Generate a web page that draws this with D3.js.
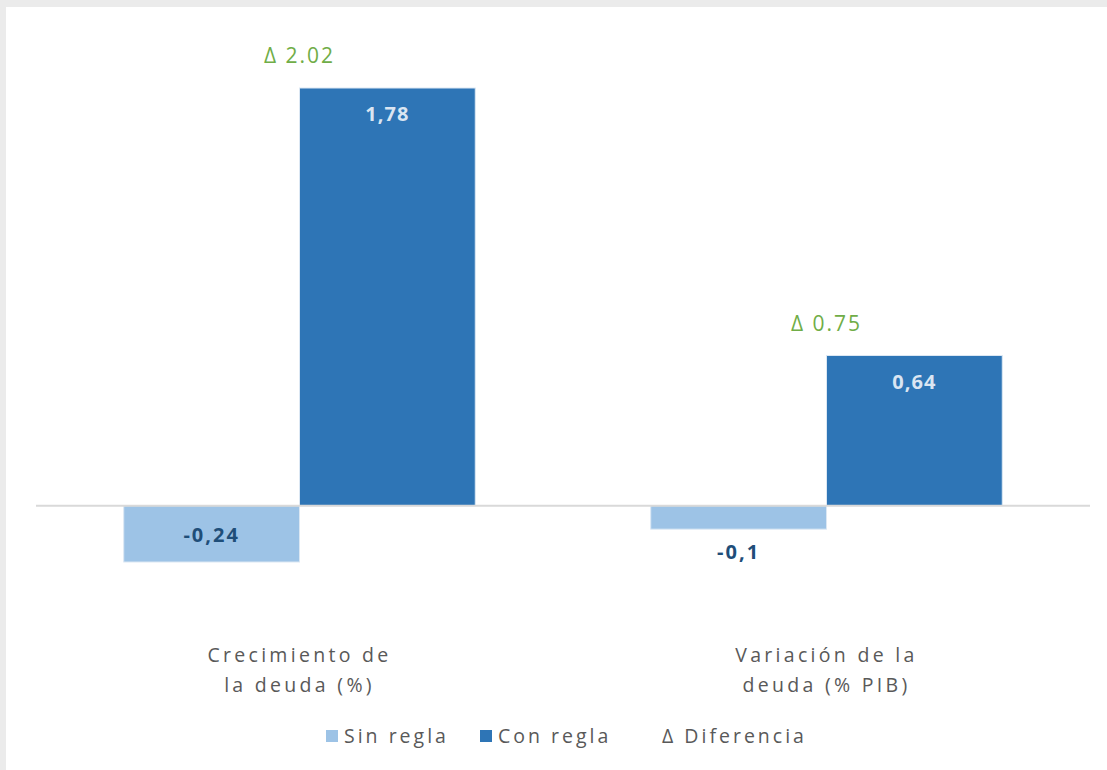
<!DOCTYPE html>
<meta charset="UTF-8">
<html>
<head>
<style>
  body { margin: 0; background: #ebebeb; }
  svg { display: block; }
</style>
</head>
<body>
<svg width="1107" height="770" font-family="'Open Sans', sans-serif"></svg>
<script src="https://d3js.org/d3.v7.min.js"></script>
<script>

// Data.
var categories = [["Crecimiento de", "la deuda (%)"], ["Variación de la", "deuda (% PIB)"]];
var series = ["Sin regla", "Con regla"];
var sinRegla = [-0.24, -0.1];
var conRegla = [1.78, 0.64];
var diferencia = [2.02, 0.75];
var valueLabels = [["-0,24", "-0,1"], ["1,78", "0,64"]];
var deltaLabels = ["Δ 2.02", "Δ 0.75"];

var colors = ["#9dc3e6", "#2e75b6"];

var svg = d3.select("svg"),
    width = +svg.attr("width"),
    height = +svg.attr("height");

// white panel
svg.append("rect")
    .attr("x", 6).attr("y", 7)
    .attr("width", width - 6).attr("height", height - 7)
    .attr("fill", "#fff");

var x0 = d3.scaleBand()
    .domain(d3.range(categories.length))
    .range([36, 1090])
    .paddingInner(0.333)
    .paddingOuter(0.1665);

var x1 = d3.scaleBand()
    .domain(d3.range(series.length))
    .range([0, x0.bandwidth()]);

var y = d3.scaleLinear()
    .domain([-0.24, 1.78])
    .range([562, 88]);

var groups = [sinRegla, conRegla];

// bars
groups.forEach(function(vals, s) {
    svg.selectAll(".bar" + s)
        .data(vals)
        .enter().append("rect")
        .attr("x", function(d, i) { return x0(i) + x1(s); })
        .attr("y", function(d) { return y(Math.max(0, d)); })
        .attr("width", x1.bandwidth())
        .attr("height", function(d) { return Math.abs(y(d) - y(0)); })
        .attr("fill", colors[s])
        .attr("stroke", "#dbe7f3")
        .attr("stroke-width", 1);
});

// zero line
svg.append("line")
    .attr("x1", 36).attr("x2", 1090)
    .attr("y1", y(0)).attr("y2", y(0))
    .attr("stroke", "#d9d9d9")
    .attr("stroke-width", 2);

// value labels
conRegla.forEach(function(d, i) {
    svg.append("text")
        .attr("x", x0(i) + x1(1) + x1.bandwidth() / 2)
        .attr("y", y(d) + 33)
        .attr("text-anchor", "middle")
        .attr("font-size", 20)
        .attr("font-weight", "bold")
        .attr("letter-spacing", 1)
        .attr("fill", "#dae5f2")
        .text(valueLabels[1][i]);
});

sinRegla.forEach(function(d, i) {
    var inside = Math.abs(y(d) - y(0)) > 40;
    svg.append("text")
        .attr("x", x0(i) + x1(0) + x1.bandwidth() / 2)
        .attr("y", inside ? y(d) - 20 : y(d) + 30)
        .attr("text-anchor", "middle")
        .attr("font-size", 20)
        .attr("font-weight", "bold")
        .attr("letter-spacing", 2)
        .attr("fill", "#1f4e79")
        .text(valueLabels[0][i]);
});

// delta labels
diferencia.forEach(function(d, i) {
    svg.append("text")
        .attr("x", x0(i) + x0.bandwidth() / 2)
        .attr("y", y(conRegla[i]) - 25)
        .attr("text-anchor", "middle")
        .attr("font-size", 21)
        .attr("letter-spacing", 2)
        .attr("fill", "#70ad47")
        .text(deltaLabels[i]);
});

// category labels
categories.forEach(function(lines, i) {
    var t = svg.append("text")
        .attr("text-anchor", "middle")
        .attr("font-size", 19.5)
        .attr("letter-spacing", 3.3)
        .attr("fill", "#595959");
    lines.forEach(function(l, k) {
        t.append("tspan")
            .attr("x", x0(i) + x0.bandwidth() / 2)
            .attr("y", 662 + k * 30)
            .text(l);
    });
});

// legend
var legendItems = [
    { label: "Sin regla", color: colors[0], x: 326 },
    { label: "Con regla", color: colors[1], x: 480 },
    { label: "Δ Diferencia", color: null, x: 662 }
];
legendItems.forEach(function(it) {
    var tx = it.x;
    if (it.color) {
        svg.append("rect")
            .attr("x", it.x).attr("y", 730)
            .attr("width", 12).attr("height", 12)
            .attr("fill", it.color);
        tx = it.x + 18;
    }
    svg.append("text")
        .attr("x", tx)
        .attr("y", 743)
        .attr("font-size", 19.5)
        .attr("letter-spacing", 3)
        .attr("fill", "#595959")
        .text(it.label);
});
</script>
</body>
</html>
